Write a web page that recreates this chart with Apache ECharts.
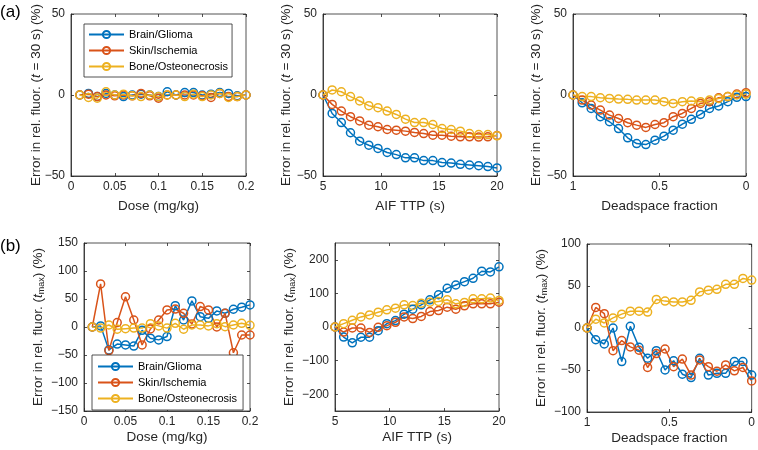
<!DOCTYPE html>
<html><head><meta charset="utf-8">
<script src="https://cdn.jsdelivr.net/npm/echarts@6/dist/echarts.min.js"></script>
<style>html,body{margin:0;padding:0;background:#fff}#c{width:758px;height:450px}</style>
</head><body><div id="c"></div>
<script>
// ---------- data ----------
const seriesNames = ['Brain/Glioma', 'Skin/Ischemia', 'Bone/Osteonecrosis'];
const doseX = [0.01,0.02,0.03,0.04,0.05,0.06,0.07,0.08,0.09,0.10,0.11,0.12,0.13,0.14,0.15,0.16,0.17,0.18,0.19,0.20];
const ttpX = [5,5.79,6.58,7.37,8.16,8.95,9.74,10.53,11.32,12.11,12.89,13.68,14.47,15.26,16.05,16.84,17.63,18.42,19.21,20];
const deadX = [1,0.947,0.895,0.842,0.789,0.737,0.684,0.632,0.579,0.526,0.474,0.421,0.368,0.316,0.263,0.211,0.158,0.105,0.053,0];

// (a) error at t = 30 s
const aDoseBrain = [0,1,-1,1,0,-1,0,0.5,0,-1,2,0,1.5,1.5,0,0.5,1.5,1,-0.5,0];
const aDoseSkin  = [0,0.5,-1,0,-0.5,0,-0.5,1,-0.5,-2,0,0,0,0,-0.5,-1.5,1,-1,-1,0];
const aDoseBone  = [0,-1.5,-2,2,0,0.5,-0.5,-1,0,-1,0,0,-1,0.5,-1,0,1,-1.5,-1,0];

const aTtpBrain = [0,-11.4,-17,-23.3,-28.5,-31,-33,-35.5,-36.8,-38.8,-38.8,-40.5,-40.5,-41.7,-42,-42.8,-43.2,-43.6,-44.2,-45];
const aTtpSkin  = [0,-5.8,-9.9,-13.4,-16,-18.6,-19.6,-21.3,-21.7,-22.3,-23.1,-23.8,-24.8,-24.8,-25.4,-25.8,-25.8,-26,-25.8,-25];
const aTtpBone  = [0,3.1,2,-1,-3.7,-6.6,-7.8,-9.9,-12,-14.9,-17,-17,-18.2,-20.7,-21.3,-22.3,-23.8,-24.4,-24.4,-25.2];

const aDeadBrain = [0,-4.8,-8.3,-13.4,-16.5,-20.7,-26.4,-30,-30.6,-27.9,-25.4,-21.7,-18,-15,-12,-8.3,-6.8,-4.1,-1.4,-1];
const aDeadSkin  = [0,-3.1,-6.2,-9.3,-12.4,-14.5,-17.1,-18.6,-20,-18.2,-17.1,-13.4,-11.4,-8.3,-5.2,-4.1,-1.7,-1,0.6,1.4];
const aDeadBone  = [0,-1,-1,-1.7,-2.1,-2.5,-2.7,-3.1,-3.1,-3.1,-4.1,-5.2,-4.1,-3.7,-4.1,-3.1,-2.1,-1,0,0.6];

// (b) error at t_max
const bDoseBrain = [0,2,-41,-30.5,-32,-34,-6,-20,-23,-17,38,12.5,46.6,18.5,15.5,28.7,24.5,31.7,35.3,39.5];
const bDoseSkin  = [0,77,-42,8,54,12.5,-32,-3.6,12.5,30.5,32,24.5,5.4,36.5,30.5,0,24.5,-46,-14.3,-14.3];
const bDoseBone  = [0,-2,3.6,-4,-3,-2,-2,6,2,-2,6.6,-4,3.6,3.6,2,6,0.6,3.6,6.6,3];

const bTtpBrain = [0,-30,-47,-30.5,-30.5,-11,10,19,38,53,66,81,96,115,125,135,145,166,164,179];
const bTtpSkin  = [0,-15,-3,-3,-16,-1,4,14,30,25,31.5,46,49,59,53,63,69,69,69,74];
const bTtpBone  = [0,10,20,30,36,44,51,56,66,64,71,74,76,81,69,73,84,84,86,79];

const bDeadBrain = [0,-14,-19,0,-40,2,-23,-36,-27,-50,-39,-55,-59,-36,-56,-54,-54,-40,-40,-56];
const bDeadSkin  = [0,24.5,17,-27,-15,-22.5,-26.5,-47,-30.5,-25,-46,-37,-56,-38,-46,-51.5,-44,-51,-47,-63];
const bDeadBone  = [0,10.5,6,12,16.5,20,20,19,34,32,31,31,33,43,45,46,52,52,59,57];

// tick labels
const ticksA = [-50, 0, 50];
const ticksBDose = [-150, -100, -50, 0, 50, 100, 150];
const ticksBTtp = [-200, -100, 0, 100, 200];
const ticksBDead = [-100, -50, 0, 50, 100];

// ---------- layout / style ----------
const FONT = "'Liberation Sans', Arial, Helvetica, sans-serif";
const COLORS = ['#0072BD', '#D95319', '#EDB120'];
const AX = '#262626';
const yNameA = 'Error in rel. fluor. ({i|t} = 30 s) (%)';
const yNameB = 'Error in rel. fluor. ({i|t}{sub|max}) (%)';

const panels = [
  {grid:[71,14,175,162], x:doseX, xmin:0, xmax:0.2, xint:0.05, inv:false, xName:'Dose (mg/kg)', ymin:-50, ymax:50, yName:yNameA, ys:[aDoseBrain,aDoseSkin,aDoseBone], yGap:27, xGap:23, yticks:ticksA},
  {grid:[323,14,174,162], x:ttpX, xmin:5, xmax:20, xint:5, inv:false, xName:'AIF TTP (s)', ymin:-50, ymax:50, yName:yNameA, ys:[aTtpBrain,aTtpSkin,aTtpBone], yGap:29, xGap:23, yticks:ticksA},
  {grid:[573,14,173,162], x:deadX, xmin:0, xmax:1, xint:0.5, inv:true, xName:'Deadspace fraction', ymin:-50, ymax:50, yName:yNameA, ys:[aDeadBrain,aDeadSkin,aDeadBone], yGap:29, xGap:23, yticks:ticksA},
  {grid:[84,243,166,168], x:doseX, xmin:0, xmax:0.2, xint:0.05, inv:false, xName:'Dose (mg/kg)', ymin:-150, ymax:150, yName:yNameB, ys:[bDoseBrain,bDoseSkin,bDoseBone], yGap:38, xGap:19, yticks:ticksBDose},
  {grid:[335,243,164,168], x:ttpX, xmin:5, xmax:20, xint:5, inv:false, xName:'AIF TTP (s)', ymin:-250, ymax:250, yName:yNameB, ys:[bTtpBrain,bTtpSkin,bTtpBone], yGap:38, xGap:19, yticks:ticksBTtp},
  {grid:[587,244,165,168], x:deadX, xmin:0, xmax:1, xint:0.5, inv:true, xName:'Deadspace fraction', ymin:-100, ymax:100, yName:yNameB, ys:[bDeadBrain,bDeadSkin,bDeadBone], yGap:38, xGap:19, yticks:ticksBDead}
];

const fmt = v => String(+(+v).toFixed(4)).replace('-', '\u2212');
const grids = [], xAxes = [], yAxes = [], series = [];
panels.forEach((p, i) => {
  grids.push({left:p.grid[0], top:p.grid[1], width:p.grid[2], height:p.grid[3], show:true, borderColor:AX, borderWidth:0.8, backgroundColor:'#fff'});
  const tickStyle = {show:true, inside:true, length:3, lineStyle:{color:AX, width:0.8}};
  xAxes.push({type:'value', gridIndex:i, min:p.xmin, max:p.xmax, interval:p.xint, inverse:p.inv,
    axisLine:{show:true, onZero:false, lineStyle:{color:AX, width:0.8}}, axisTick:tickStyle, splitLine:{show:false},
    axisLabel:{color:AX, fontFamily:FONT, fontSize:12, margin:5, formatter:fmt},
    name:p.xName, nameLocation:'middle', nameGap:p.xGap, nameMoveOverlap:false,
    nameTextStyle:{color:AX, fontFamily:FONT, fontSize:13.5}});
  xAxes.push({type:'value', gridIndex:i, position:'top', min:p.xmin, max:p.xmax, interval:p.xint, inverse:p.inv,
    axisLine:{show:false, onZero:false}, axisTick:tickStyle, axisLabel:{show:false}, splitLine:{show:false}});
  const richBase = {color:AX, fontFamily:FONT, fontSize:13.5, lineHeight:16};
  yAxes.push({type:'value', gridIndex:i, min:p.ymin, max:p.ymax,
    axisLine:{show:true, onZero:false, lineStyle:{color:AX, width:0.8}},
    axisTick:Object.assign({customValues:p.yticks}, tickStyle), splitLine:{show:false},
    axisLabel:{color:AX, fontFamily:FONT, fontSize:12, margin:6, formatter:fmt, customValues:p.yticks},
    name:p.yName, nameLocation:'middle', nameGap:p.yGap, nameMoveOverlap:false,
    nameTextStyle:{color:AX, fontFamily:FONT, fontSize:13.5, lineHeight:16,
      rich:{i:Object.assign({}, richBase, {fontStyle:'italic'}),
            sub:{color:AX, fontFamily:FONT, fontSize:9, lineHeight:9, padding:[8,0,0,0], verticalAlign:'bottom'}}}});
  yAxes.push({type:'value', gridIndex:i, position:'right', min:p.ymin, max:p.ymax,
    axisLine:{show:false, onZero:false}, axisTick:Object.assign({customValues:p.yticks}, tickStyle),
    axisLabel:{show:false, customValues:p.yticks}, splitLine:{show:false}});
  p.ys.forEach((arr, k) => {
    series.push({name:seriesNames[k], type:'line', xAxisIndex:2*i, yAxisIndex:2*i,
      data:p.x.map((xv, j) => [xv, arr[j]]),
      symbol:'circle', symbolSize:8, showSymbol:true,
      lineStyle:{color:COLORS[k], width:1.5},
      itemStyle:{color:'rgba(255,255,255,0)', borderColor:COLORS[k], borderWidth:1.5},
      emphasis:{disabled:true}, animation:false, clip:false});
  });
});

const legendBase = {orient:'vertical', itemWidth:35, itemHeight:9, itemGap:5,
  borderColor:AX, borderWidth:0.8, backgroundColor:'#fff', borderRadius:0,
  textStyle:{color:'#000', fontFamily:FONT, fontSize:11}, data:seriesNames, selectedMode:false};

const option = {
  animation:false,
  backgroundColor:'#fff',
  grid:grids, xAxis:xAxes, yAxis:yAxes, series:series,
  legend:[
    Object.assign({}, legendBase, {left:84, top:24, padding:[5,4,5,4]}),
    Object.assign({}, legendBase, {left:92, top:355, padding:[6,6,6,5]})
  ],
  graphic:[
    {type:'text', left:0, top:4, style:{text:'(a)', font:'17px ' + FONT, fill:'#000'}},
    {type:'text', left:0, top:238, style:{text:'(b)', font:'17px ' + FONT, fill:'#000'}}
  ]
};
const chart = echarts.init(document.getElementById('c'), null, {renderer:'canvas'});
chart.setOption(option);
</script></body></html>
